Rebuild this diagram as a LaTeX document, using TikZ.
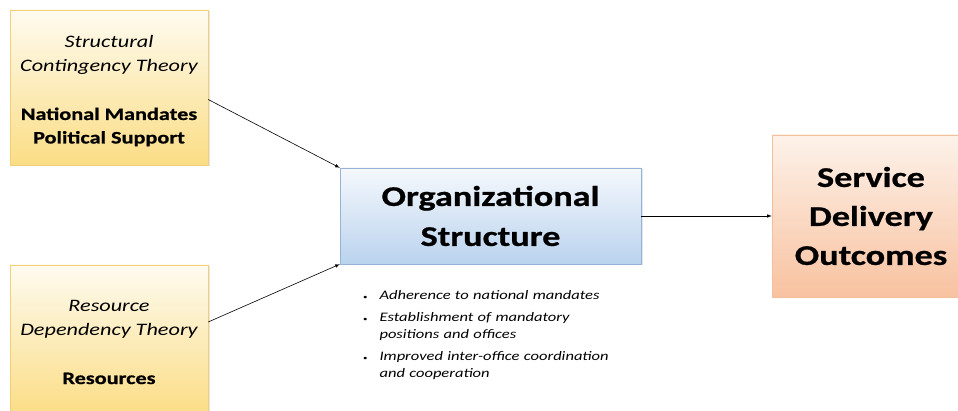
\documentclass[tikz,border=0pt]{standalone}
\usepackage{fontspec}
\setmainfont{Carlito}[FakeStretch=1.27, BoldFeatures={FakeBold=0.8}]
\usepackage{enumitem}
\usetikzlibrary{calc, shadows, arrows.meta}
\tikzset{>=latex}
\definecolor{goldtop}{HTML}{FEFBF0}
\definecolor{goldbot}{HTML}{FBDD85}
\definecolor{goldline}{HTML}{F2CF78}
\definecolor{bluetop}{HTML}{F5F8FC}
\definecolor{bluebot}{HTML}{BAD3EE}
\definecolor{blueline}{HTML}{95B3D7}
\definecolor{peachtop}{HTML}{FDF2EA}
\definecolor{peachbot}{HTML}{F8C2A0}
\definecolor{peachline}{HTML}{F4C09C}
\tikzset{
  box/.style={drop shadow={opacity=0.2, shadow xshift=1.5pt, shadow yshift=-1.5pt}},
  theory/.style={box, draw=goldline, top color=goldtop, bottom color=goldbot, minimum width=198pt},
  core/.style={box, draw=blueline, top color=bluetop, bottom color=bluebot,
    minimum width=301pt, minimum height=96pt, font=\fontsize{28.5}{40}\selectfont\bfseries, align=center},
  outcome/.style={box, draw=peachline, top color=peachtop, bottom color=peachbot,
    minimum width=198pt, minimum height=162pt, font=\fontsize{28.5}{39}\selectfont\bfseries, align=center},
  link/.style={->, semithick}
}

\begin{document}
\begin{tikzpicture}[x=1pt, y=-1pt]
\useasboundingbox (0,0) rectangle (958,411);
% theory boxes on the left
\node[theory, minimum height=155pt] (sct) at (109,87.5) {};
\node[theory, minimum height=150pt] (rdt) at (109,340) {};
\node[align=center, font=\fontsize{17.5}{23.5}\selectfont] (scttext) at (109,91)
  {\itshape Structural\\ \itshape Contingency Theory\\[25pt] \bfseries National Mandates\\ \bfseries Political Support};
\node[align=center, font=\fontsize{17.5}{24}\selectfont] (rdttext) at (109,342)
  {\itshape Resource\\ \itshape Dependency Theory\\[25pt] \bfseries Resources};
% organizational structure and outcomes
\node[core] (org) at (490.5,216) {Organizational\\ Structure};
\node[outcome] (sdo) at (871,216) {Service\\ Delivery\\ Outcomes};
% bullet points under the middle box
\node[anchor=north west, text width=280pt, font=\fontsize{13}{17}\selectfont\itshape] (notes) at (348,279) {
  \begin{itemize}[leftmargin=28pt, labelsep=12pt, itemsep=5pt, topsep=0pt, parsep=0pt, label={\upshape\scriptsize\textbullet}]
  \item Adherence to national mandates
  \item Establishment of mandatory\\ positions and offices
  \item Improved inter-office coordination\\ and cooperation
  \end{itemize}};
% connectors
\draw[link] ([yshift=-12pt]sct.east) -- (org.north west);
\draw[link] ([yshift=18pt]rdt.east) -- (org.south west);
\draw[link] (org) -- (sdo);
\end{tikzpicture}
\end{document}
